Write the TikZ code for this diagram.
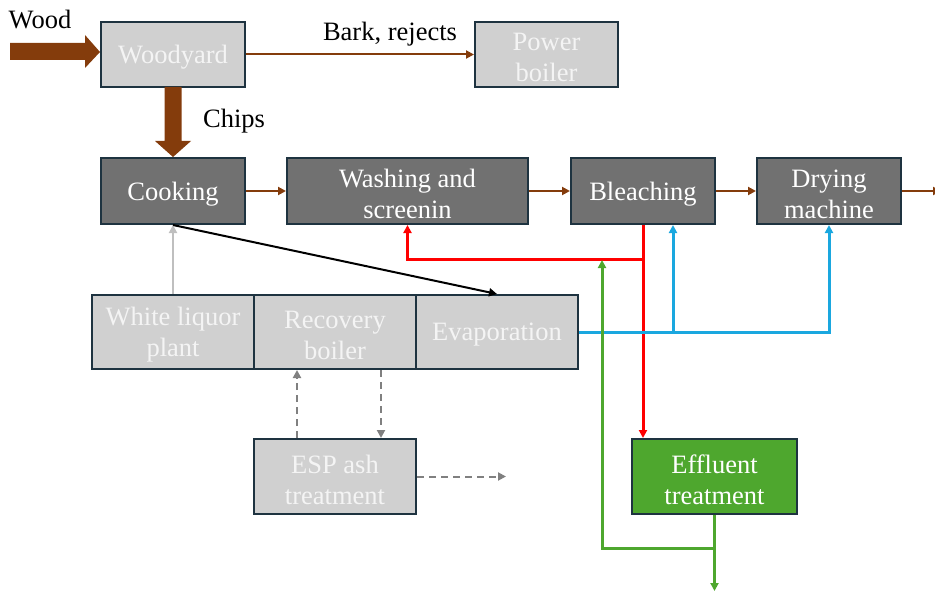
\documentclass[tikz,border=0pt]{standalone}
\usepackage{fontspec}
\setmainfont{Liberation Serif}
\usetikzlibrary{arrows.meta,calc}
\definecolor{bordc}{HTML}{1E3340}
\definecolor{lightf}{HTML}{D0D0D0}
\definecolor{lighttxt}{HTML}{F4F4F4}
\definecolor{darkf}{HTML}{717171}
\definecolor{brownc}{HTML}{843C0C}
\definecolor{bluec}{HTML}{1AA7DF}
\definecolor{greenc}{HTML}{4EA72E}
\definecolor{redc}{HTML}{FF0000}
\definecolor{dashc}{HTML}{808080}
\definecolor{paleline}{HTML}{BFBFBF}
\tikzset{
  boxfont/.style={font=\fontsize{26.5}{31}\selectfont},
  box/.style={draw=bordc, line width=2pt, inner sep=0pt},
  % box text sits a little below the geometric centre
  ltxt/.style={boxfont, align=center, text=lighttxt, yshift=-3pt, inner sep=0pt},
  dtxt/.style={boxfont, align=center, text=white, yshift=-3pt, inner sep=0pt},
  lbox/.style={box, fill=lightf, label={[ltxt]center:{#1}}},
  dbox/.style={box, fill=darkf, label={[dtxt]center:{#1}}},
  gbox/.style={box, fill=greenc, label={[dtxt]center:{#1}}},
  tip/.style={-{Triangle[length=8pt,width=8pt]}},
  flow/.style={tip, draw=brownc, line width=2pt},
  redflow/.style={tip, draw=redc, line width=3pt},
  blueflow/.style={tip, draw=bluec, line width=3pt},
  greenflow/.style={tip, draw=greenc, line width=3pt},
  ashflow/.style={tip, draw=dashc, line width=2pt, dash pattern=on 7pt off 5pt},
  lbl/.style={boxfont, text=black}
}
\begin{document}
\begin{tikzpicture}[x=1pt,y=-1pt]
\useasboundingbox (0,0) rectangle (935,591);

% upper row
\node[lbox={Woodyard}, minimum width=144pt, minimum height=65pt] (woody) at (173,54.5) {};
\node[lbox={Power\\boiler}, minimum width=143pt, minimum height=65pt] (power) at (546.5,54.5) {};

% main fibre line
\node[dbox={Cooking}, minimum width=144pt, minimum height=66pt] (cook) at (173,191) {};
\node[dbox={Washing and\\screenin}, minimum width=241pt, minimum height=66pt] (wash) at (407.5,191) {};
\node[dbox={Bleaching}, minimum width=144pt, minimum height=66pt] (bleach) at (643,191) {};
\node[dbox={Drying\\machine}, minimum width=144pt, minimum height=66pt] (dry) at (829,191) {};

% chemical recovery
\node[lbox={White liquor\\plant}, minimum width=162pt, minimum height=74pt] (wlp) at (173,332) {};
\node[lbox={Recovery\\boiler}, minimum width=162pt, minimum height=74pt] (rec) at (335,332) {};
\node[lbox={Evaporation}, minimum width=162pt, minimum height=74pt] (evap) at (497,332) {};
\node[lbox={ESP ash\\treatment}, minimum width=162pt, minimum height=75pt] (esp) at (335,476.5) {};
\node[gbox={Effluent\\treatment}, minimum width=165pt, minimum height=75pt] (eff) at (714.5,476.5) {};

% labels
\node[lbl] (woodlbl) at (40,20) {Wood};
\node[lbl] (barklbl) at (390,34) {Bark, rejects};
\node[lbl] (chipslbl) at (234,121) {Chips};

% thick wood and chips arrows
\fill[brownc] (10,43) -- (85,43) -- (85,35) -- ([yshift=2.5pt]woody.west) -- (85,68) -- (85,60) -- (10,60) -- cycle;
\fill[brownc] (164.5,87) -- (164.5,141) -- (155,141) -- (cook.north) -- (191,141) -- (181.5,141) -- (181.5,87) -- cycle;

% thin fibre flows
\draw[flow] (woody.east) -- (power.west);
\draw[flow] (cook.east) -- (wash.west);
\draw[flow] (wash.east) -- (bleach.west);
\draw[flow] (bleach.east) -- (dry.west);
\coordinate (out) at (941,191);
\draw[flow] (dry.east) -- (out);

% liquor flows
\draw[tip, draw=paleline, line width=2pt] (wlp.north) -- (cook.south);
\draw[tip, draw=black, line width=2pt] (cook.south) -- (evap.north);

% bleaching filtrate
\coordinate (redj) at (643,259);
\draw[redflow] (bleach.south) -- (bleach.south |- eff.north);
\draw[redflow] (redj) -| (wash.south);

% condensate
\coordinate (bluej) at (673,332);
\draw[blueflow] (evap.east) -| (dry.south);
\draw[blueflow] (bluej) -- (bluej |- bleach.south);

% treated water
\coordinate (gout) at (714.5,591);
\coordinate (gj) at (714.5,548);
\coordinate (gtop) at (602,260);
\draw[greenflow] (eff.south) -- (gout);
\draw[greenflow] (gj) -| (gtop);

% ESP ash loops
\draw[ashflow] ([xshift=-38pt]esp.north) -- ([xshift=-38pt]rec.south);
\draw[ashflow] ([xshift=46pt]rec.south) -- ([xshift=46pt]esp.north);
\coordinate (ashout) at (506,476.5);
\draw[ashflow] (esp.east) -- (ashout);
\end{tikzpicture}
\end{document}
